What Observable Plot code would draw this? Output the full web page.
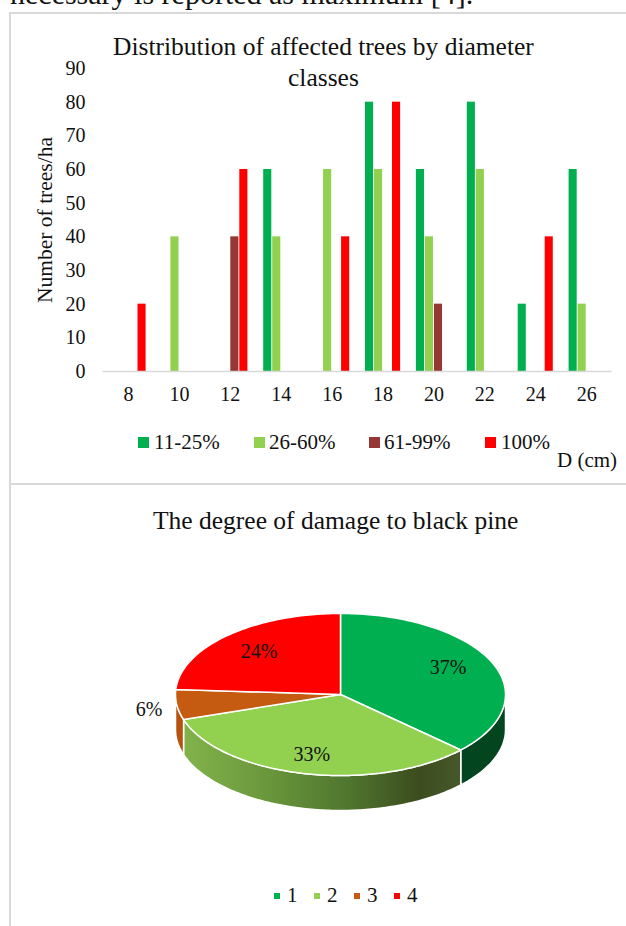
<!DOCTYPE html>
<html>
<head>
<meta charset="utf-8">
<script src="https://cdn.jsdelivr.net/npm/d3@7"></script>
<script src="https://cdn.jsdelivr.net/npm/@observablehq/plot@0.6"></script>
<style>
  html, body { margin: 0; padding: 0; background: #fff; }
  #root { position: relative; width: 626px; height: 926px; overflow: hidden; font-family: "Liberation Serif", serif; color: #111; }
  #root > * { position: absolute; }
  .t { white-space: nowrap; line-height: 1; }
  .rule { background: #d9d9d9; }
  .sw { display: block; }
</style>
</head>
<body>
<div id="root"></div>
<script>
// ---- bar chart data ----
const diameters = [8, 10, 12, 14, 16, 18, 20, 22, 24, 26];
const damageClasses = ["11-25%", "26-60%", "61-99%", "100%"];
const class1 = [0, 0, 0, 60, 0, 80, 60, 80, 20, 60];
const class2 = [0, 40, 0, 40, 60, 60, 40, 60, 0, 20];
const class3 = [0, 0, 40, 0, 0, 0, 20, 0, 0, 0];
const class4 = [20, 0, 60, 0, 40, 80, 0, 0, 40, 0];
const classColors = ["#00b050", "#92d050", "#953735", "#ff0000"];
const yTicks = [0, 10, 20, 30, 40, 50, 60, 70, 80, 90];

// ---- pie chart data ----
const pieNames = ["1", "2", "3", "4"];
const pieValues = [37, 33, 6, 24];
const pieColors = ["#00b050", "#92d050", "#c55a11", "#ff0000"];
const pieSideFills = ["#02451f", "url(#sideGreen)", "#b6540f", "#990000"];

const root = document.getElementById("root");
const font = '"Liberation Serif", serif';

function addText(text, left, top, size, extra) {
  const el = document.createElement("div");
  el.className = "t";
  el.textContent = text;
  el.style.left = left + "px";
  el.style.top = top + "px";
  el.style.fontSize = size + "px";
  if (extra) Object.assign(el.style, extra);
  root.appendChild(el);
  return el;
}
function addBox(cls, left, top, w, h, color) {
  const el = document.createElement("div");
  el.className = cls;
  el.style.cssText = `left:${left}px;top:${top}px;width:${w}px;height:${h}px;` + (color ? `background:${color};` : "");
  root.appendChild(el);
}

// cropped page text and frame lines
addText("necessary is reported as maximum [4].", 10, -21, 30);
addBox("rule", 9, 12, 617, 2);
addBox("rule", 9, 12, 2, 914);
addBox("rule", 9, 483, 617, 2);

// ---- bar chart ----
const barRows = damageClasses.flatMap((c, i) =>
  diameters.map((d, j) => ({ d, cls: c, value: [class1, class2, class3, class4][i][j] }))
).filter(r => r.value > 0);

const bars = Plot.plot({
  width: 626,
  height: 480,
  marginLeft: 102.6,
  marginRight: 14.4,
  marginTop: 68,
  marginBottom: 109,
  style: { fontFamily: font, fontSize: "20px", color: "#111", background: "transparent" },
  fx: { domain: diameters, padding: 0, round: false, axis: "bottom", label: null, tickSize: 0, tickPadding: 15 },
  x: { domain: damageClasses, axis: null, round: false, paddingInner: 0.1, paddingOuter: 0.878 },
  y: { domain: [0, 90], ticks: yTicks, tickSize: 0, tickPadding: 17.6, label: "Number of trees/ha", labelAnchor: "center", labelArrow: "none", labelOffset: 66 },
  color: { domain: damageClasses, range: classColors },
  marks: [
    Plot.barY(barRows, { fx: "d", x: "cls", y: "value", fill: "cls" }),
    Plot.ruleY([0], { stroke: "#d9d9d9", strokeWidth: 1.5 })
  ]
});
bars.style.left = "0px";
bars.style.top = "0px";
root.appendChild(bars);
const yLabel = bars.querySelector('g[aria-label="y-axis label"]');
if (yLabel) yLabel.style.fontSize = "21.5px";

addText("Distribution of affected trees by diameter", 113, 34, 25.5);
addText("classes", 288, 65, 25.5);
addText("D (cm)", 557, 450, 21);

const legendX = [[138, 154], [254, 269], [369, 384], [485, 501]];
damageClasses.forEach((c, i) => {
  addBox("sw", legendX[i][0], 437, 11, 11, classColors[i]);
  addText(c, legendX[i][1], 432, 21);
});

// ---- pie chart ----
const depth = 35 / 81;           // wall depth, in units of the y radius
const arcs = d3.pie().sort(null).value(d => d)(pieValues);
const step = Math.PI / 180;
const pt = (a, dy = 0) => ({ x: Math.sin(a), y: Math.cos(a) - dy });
function arcPts(a0, a1, dy = 0) {
  const out = [];
  const n = Math.max(2, Math.ceil((a1 - a0) / step));
  for (let k = 0; k <= n; k++) out.push(pt(a0 + (a1 - a0) * k / n, dy));
  return out;
}
const tops = arcs.map(a => [{ x: 0, y: 0 }, ...arcPts(a.startAngle, a.endAngle)]);
const sides = arcs.map(a => {
  const a0 = Math.max(a.startAngle, Math.PI / 2), a1 = Math.min(a.endAngle, 3 * Math.PI / 2);
  if (a1 <= a0) return null;
  return [...arcPts(a0, a1), ...arcPts(a0, a1, depth).reverse()];
});
const labelRadius = [0.71, 0.80, 1.17, 0.72];
const labelLift = [0.05, 0.04, -0.04, 0.01];
const labelRows = arcs.map((a, i) => {
  const m = (a.startAngle + a.endAngle) / 2;
  return { x: Math.sin(m) * labelRadius[i], y: Math.cos(m) * labelRadius[i] + labelLift[i], text: pieValues[i] + "%" };
});

function gradientDefs() {
  const ns = "http://www.w3.org/2000/svg";
  const g = document.createElementNS(ns, "g");
  g.innerHTML = `<defs><linearGradient id="sideGreen" x1="0" x2="1" y1="0" y2="0">
    <stop offset="0" stop-color="#82b34a"/><stop offset="0.3" stop-color="#6a973c"/>
    <stop offset="0.6" stop-color="#4f752e"/><stop offset="0.85" stop-color="#3c4c1e"/>
    <stop offset="1" stop-color="#46592a"/></linearGradient></defs>`;
  return g;
}

const pieTop = 600;
const pie = Plot.plot({
  width: 626,
  height: 230,
  margin: 0,
  style: { fontFamily: font, fontSize: "20px", color: "#111", background: "transparent", overflow: "visible" },
  x: { domain: [-1, 1], range: [175, 505], axis: null },
  y: { domain: [1, -1], range: [694 - 81 - pieTop, 694 + 81 - pieTop], axis: null },
  marks: [
    gradientDefs,
    ...sides.map((s, i) => s && Plot.line(s, { x: "x", y: "y", fill: pieSideFills[i], stroke: "#fff", strokeWidth: 1.5, curve: "linear-closed" })).filter(Boolean),
    ...tops.map((s, i) => Plot.line(s, { x: "x", y: "y", fill: pieColors[i], stroke: "#fff", strokeWidth: 1.5, curve: "linear-closed" })),
    Plot.text(labelRows, { x: "x", y: "y", text: "text", fill: "#111", fontSize: 20 })
  ]
});
pie.style.left = "0px";
pie.style.top = pieTop + "px";
root.appendChild(pie);

addText("The degree of damage to black pine", 153, 508, 25.5);

const pieLegendX = [[274, 287], [314, 327], [354, 367], [394, 407]];
pieNames.forEach((n, i) => {
  addBox("sw", pieLegendX[i][0], 893, 6, 6, pieColors[i]);
  addText(n, pieLegendX[i][1], 885, 21);
});
</script>
</body>
</html>
